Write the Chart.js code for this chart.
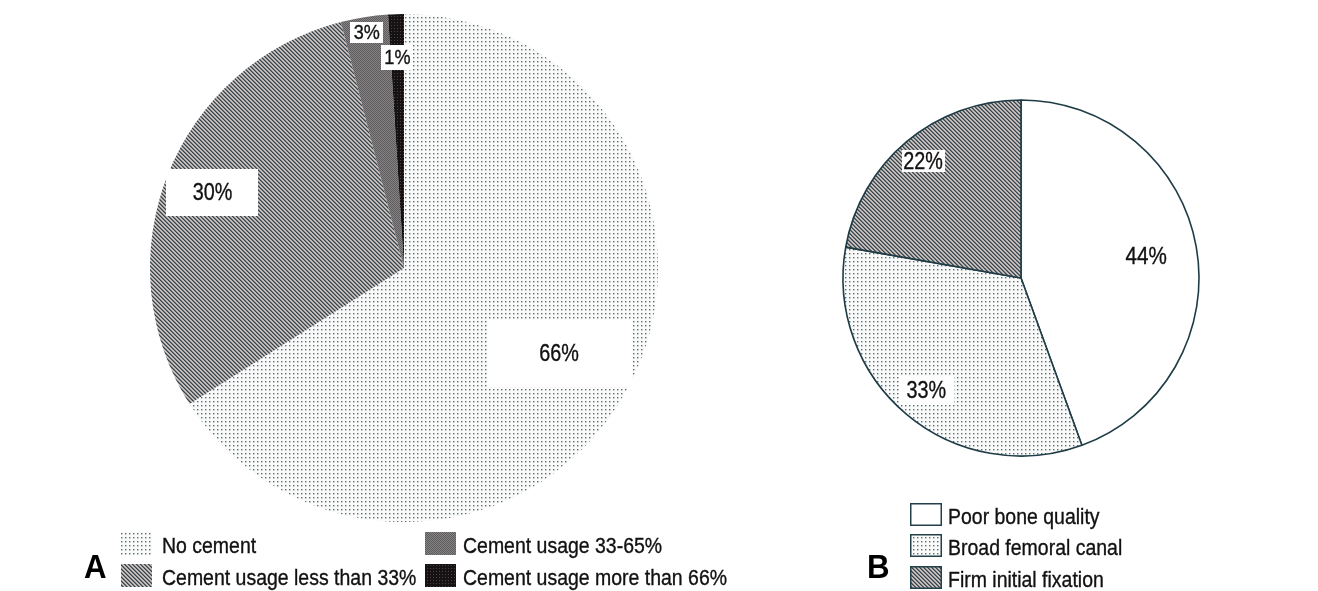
<!DOCTYPE html>
<html>
<head>
<meta charset="utf-8">
<script src="https://cdn.jsdelivr.net/npm/chart.js@4.4.1/dist/chart.umd.min.js"></script>
<style>
  html, body { margin: 0; padding: 0; background: #ffffff; }
  #wrap { position: relative; width: 1318px; height: 591px; overflow: hidden; background: #ffffff; }
  canvas { position: absolute; left: 0; top: 0; }
</style>
</head>
<body>
<div id="wrap">
  <canvas id="chartA" width="1318" height="591"></canvas>
  <canvas id="chartB" width="1318" height="591"></canvas>
</div>
<script>
// ---------- DATA ----------
const categoriesA = ['No cement', 'Cement usage less than 33%', 'Cement usage 33-65%', 'Cement usage more than 66%'];
const valuesA = [66, 30, 3, 1];
const categoriesB = ['Poor bone quality', 'Broad femoral canal', 'Firm initial fixation'];
const valuesB = [44, 33, 22];
const panelLetters = ['A', 'B'];

// ---------- STYLE ----------
const FONT = '"Liberation Sans", Arial, Helvetica, sans-serif';
const TEXT = '#111111';

function makePattern(w, h, fn) {
  const c = document.createElement('canvas');
  c.width = w; c.height = h;
  const x = c.getContext('2d');
  const img = x.createImageData(w, h);
  for (let j = 0; j < h; j++) {
    for (let i = 0; i < w; i++) {
      const col = fn(i, j);
      const k = (j * w + i) * 4;
      img.data[k] = col[0]; img.data[k + 1] = col[1]; img.data[k + 2] = col[2]; img.data[k + 3] = 255;
    }
  }
  x.putImageData(img, 0, 0);
  return x.createPattern(c, 'repeat');
}

const patWhite = '#ffffff';
const patDots = makePattern(4, 4, (i, j) => {
  if (i === 1 && j === 1) return [70, 112, 128];
  if ((i === 2 && j === 1) || (i === 1 && j === 2)) return [180, 198, 204];
  if (i === 2 && j === 2) return [215, 224, 226];
  return [252, 250, 249];
});
const patHatch = makePattern(4, 4, (i, j) => {
  const d = (i - j + 8) % 4;
  if (d === 0) return [55, 70, 78];
  if (d === 1) return [112, 120, 124];
  if (d === 2) return [212, 200, 196];
  return [178, 172, 170];
});
const patGray = makePattern(2, 2, (i, j) => ((i + j) % 2 === 0) ? [92, 92, 94] : [136, 132, 132]);
const patBlack = makePattern(3, 3, (i, j) => (i === 1 && j === 1) ? [82, 62, 62] : [20, 18, 18]);

const fillsA = [patDots, patHatch, patGray, patBlack];
const fillsB = [patWhite, patDots, patHatch];

// label placement (fraction of radius along slice bisector) and white box sizes
const labelFracA = [0.697, 0.811, 0.939, 0.829];
const labelBoxA = [[145, 67], [92, 47], [33, 21], [32, 25]];
const labelFontA = [23, 23, 21, 21];
const labelFracB = [0.714, 0.828, 0.856];
const labelBoxB = [[0, 0], [55, 29], [43, 22]];
const labelFontB = [24, 23, 23];

function condensedText(ctx, str, x, y, sx) {
  ctx.save();
  ctx.translate(x, y);
  ctx.scale(sx, 1);
  ctx.lineWidth = 0.35;
  ctx.strokeStyle = ctx.fillStyle;
  ctx.fillText(str, 0, 0);
  ctx.strokeText(str, 0, 0);
  ctx.restore();
}

function labelPlugin(fracs, boxes, fonts) {
  return {
    id: 'sliceLabels',
    afterDatasetsDraw(chart) {
      const ctx = chart.ctx;
      const meta = chart.getDatasetMeta(0);
      const data = chart.data.datasets[0].data;
      meta.data.forEach((arc, i) => {
        const p = arc.getProps(['x', 'y', 'startAngle', 'endAngle', 'outerRadius'], true);
        const mid = (p.startAngle + p.endAngle) / 2;
        const r = p.outerRadius * fracs[i];
        const cx = p.x + Math.cos(mid) * r;
        const cy = p.y + Math.sin(mid) * r;
        const [bw, bh] = boxes[i];
        ctx.save();
        if (bw > 0) {
          ctx.fillStyle = '#ffffff';
          ctx.fillRect(Math.round(cx - bw / 2), Math.round(cy - bh / 2), bw, bh);
        }
        ctx.fillStyle = TEXT;
        ctx.font = fonts[i] + 'px ' + FONT;
        ctx.textAlign = 'center';
        ctx.textBaseline = 'middle';
        condensedText(ctx, data[i] + '%', cx, cy + 1, 0.86);
        ctx.restore();
      });
    }
  };
}

// legend layouts (style only)
const legendA = { swX: [121, 425], txtX: [162, 463], rowY: [532, 564], swW: 31, swH: 23, outline: false, rows: 2 };
const legendB = { swX: [910], txtX: [948], rowY: [503, 534, 566], swW: 32, swH: 23, outline: true, rows: 3 };

function legendPlugin(layout, letter, letterPos) {
  return {
    id: 'customLegend',
    afterDraw(chart) {
      const ctx = chart.ctx;
      const labels = chart.data.labels;
      const fills = chart.data.datasets[0].backgroundColor;
      ctx.save();
      labels.forEach((lab, i) => {
        const col = Math.floor(i / layout.rows);
        const row = i % layout.rows;
        const x = layout.swX[col], y = layout.rowY[row];
        ctx.fillStyle = fills[i];
        ctx.fillRect(x, y, layout.swW, layout.swH);
        if (layout.outline) {
          ctx.strokeStyle = '#23414b';
          ctx.lineWidth = 1.5;
          ctx.strokeRect(x + 0.75, y + 0.75, layout.swW - 1.5, layout.swH - 1.5);
        }
        ctx.fillStyle = TEXT;
        ctx.font = '22px ' + FONT;
        ctx.textAlign = 'left';
        ctx.textBaseline = 'alphabetic';
        condensedText(ctx, lab, layout.txtX[col], y + 21, 0.885);
      });
      ctx.fillStyle = '#000000';
      ctx.font = 'bold 34px ' + FONT;
      ctx.textAlign = 'left';
      ctx.textBaseline = 'alphabetic';
      ctx.save();
      ctx.translate(letterPos[0], letterPos[1]);
      ctx.scale(0.92, 1);
      ctx.fillText(letter, 0, 0);
      ctx.restore();
      ctx.restore();
    }
  };
}

const bgPlugin = {
  id: 'bg',
  beforeDraw(chart) {
    const c = chart.ctx;
    c.save();
    c.fillStyle = '#ffffff';
    c.fillRect(0, 0, chart.width, chart.height);
    c.restore();
  }
};

const common = {
  responsive: false,
  animation: false,
  devicePixelRatio: 1,
  events: [],
  plugins: { legend: { display: false }, tooltip: { enabled: false } }
};

new Chart(document.getElementById('chartA'), {
  type: 'pie',
  data: {
    labels: categoriesA,
    datasets: [{ data: valuesA, backgroundColor: fillsA, borderWidth: 0, radius: 254 }]
  },
  options: Object.assign({}, common, {
    layout: { padding: { left: 150, right: 660, top: 14, bottom: 69 } }
  }),
  plugins: [bgPlugin, labelPlugin(labelFracA, labelBoxA, labelFontA), legendPlugin(legendA, panelLetters[0], [84, 578])]
});

new Chart(document.getElementById('chartB'), {
  type: 'pie',
  data: {
    labels: categoriesB,
    datasets: [{ data: valuesB, backgroundColor: fillsB, borderColor: '#1f3c46', borderWidth: 1.6, radius: 178 }]
  },
  options: Object.assign({}, common, {
    layout: { padding: { left: 843, right: 119, top: 100, bottom: 135 } }
  }),
  plugins: [labelPlugin(labelFracB, labelBoxB, labelFontB), legendPlugin(legendB, panelLetters[1], [867, 578])]
});
</script>
</body>
</html>
